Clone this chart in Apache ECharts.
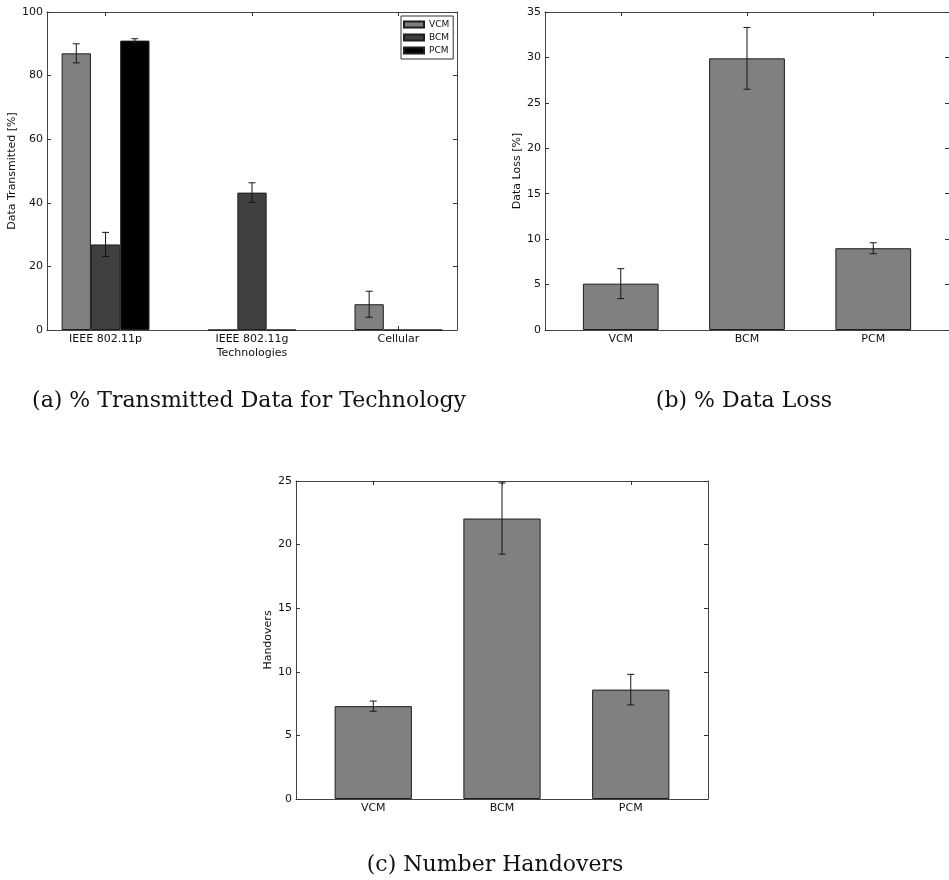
<!DOCTYPE html>
<html>
<head>
<meta charset="utf-8">
<script src="https://cdn.jsdelivr.net/npm/echarts@6/dist/echarts.min.js"></script>
<style>
  html, body { margin: 0; padding: 0; background: #fff; }
  #main { width: 949px; height: 880px; }
</style>
</head>
<body>
<div id="main"></div>
<script>
// ---- data ----
const technologies = ['IEEE 802.11p', 'IEEE 802.11g', 'Cellular'];
const methods = ['VCM', 'BCM', 'PCM'];

// share of data transmitted over each technology [%]
const vcmTransmitted = [87.0, 0, 8.1];
const bcmTransmitted = [26.9, 43.2, 0];
const pcmTransmitted = [91.0, 0, 0];
const vcmTransmittedErr = [3.0, 0, 4.1];
const bcmTransmittedErr = [3.8, 3.1, 0];
const pcmTransmittedErr = [0.6, 0, 0];

// data loss per method [%]
const dataLoss = [5.1, 29.9, 9.0];
const dataLossErr = [1.65, 3.4, 0.6];

// number of handovers per method
const handovers = [7.3, 22.05, 8.6];
const handoversErr = [0.4, 2.8, 1.2];

// y tick labels
const transmittedTicks = [0, 20, 40, 60, 80, 100];
const lossTicks = [0, 5, 10, 15, 20, 25, 30, 35];
const handoverTicks = [0, 5, 10, 15, 20, 25];

// ---- styling ----
const SANS = 'DejaVu Sans';
const SERIF = 'DejaVu Serif';
const INK = '#111';
const FRAME = '#444';
const LABEL_SIZE = 11;
const GREYS = { VCM: '#808080', BCM: '#404040', PCM: '#000000' };

const chart = echarts.init(document.getElementById('main'), null, { renderer: 'canvas' });

const frameLine = { show: true, onZero: false, lineStyle: { color: FRAME, width: 1 } };
const innerTick = { show: true, inside: true, length: 4, lineStyle: { color: '#333', width: 1 } };

function xAxesFor(gridIndex, cats, min, max, name) {
  const pos = cats.map((_, i) => i);
  return [
    {
      type: 'value', gridIndex, position: 'bottom', min, max,
      axisLine: frameLine,
      axisTick: Object.assign({ customValues: pos }, innerTick),
      axisLabel: {
        customValues: pos, margin: 4,
        formatter: v => cats[Math.round(v)],
        fontFamily: SANS, fontSize: LABEL_SIZE, color: INK
      },
      splitLine: { show: false },
      name: name || '', nameLocation: 'middle', nameGap: 18,
      nameTextStyle: { fontFamily: SANS, fontSize: LABEL_SIZE, color: INK }
    },
    {
      type: 'value', gridIndex, position: 'top', min, max,
      axisLine: frameLine,
      axisTick: Object.assign({ customValues: pos }, innerTick),
      axisLabel: { show: false },
      splitLine: { show: false }
    }
  ];
}

function yAxesFor(gridIndex, ticks, name, gap) {
  const min = ticks[0], max = ticks[ticks.length - 1], interval = ticks[1] - ticks[0];
  return [
    {
      type: 'value', gridIndex, position: 'left', min, max, interval,
      axisLine: frameLine, axisTick: innerTick,
      axisLabel: { margin: 4, fontFamily: SANS, fontSize: LABEL_SIZE, color: INK },
      splitLine: { show: false },
      name, nameLocation: 'middle', nameGap: gap, nameRotate: 90,
      nameTextStyle: { fontFamily: SANS, fontSize: LABEL_SIZE, color: INK }
    },
    {
      type: 'value', gridIndex, position: 'right', min, max, interval,
      axisLine: frameLine, axisTick: innerTick,
      axisLabel: { show: false },
      splitLine: { show: false }
    }
  ];
}

// vertical error bar with caps
function errorBarItem(params, api) {
  const x = api.value(0);
  const lo = api.coord([x, api.value(1)]);
  const hi = api.coord([x, api.value(2)]);
  const cap = 3.5;
  const style = { stroke: '#151515', lineWidth: 1 };
  return {
    type: 'group',
    children: [
      { type: 'line', shape: { x1: lo[0], y1: lo[1], x2: hi[0], y2: hi[1] }, style },
      { type: 'line', shape: { x1: lo[0] - cap, y1: lo[1], x2: lo[0] + cap, y2: lo[1] }, style },
      { type: 'line', shape: { x1: hi[0] - cap, y1: hi[1], x2: hi[0] + cap, y2: hi[1] }, style }
    ]
  };
}

function errorRows(values, errs, offset) {
  const rows = [];
  values.forEach((v, i) => {
    if (errs[i] > 0) rows.push([i + offset, v - errs[i], v + errs[i]]);
  });
  return rows;
}

function barSeries(name, values, color, xi, yi, width) {
  return {
    type: 'bar', name, xAxisIndex: xi, yAxisIndex: yi,
    data: values.map((v, i) => [i, v]),
    barWidth: width, barGap: '0%',
    itemStyle: { color, borderColor: '#1e1e1e', borderWidth: 1 },
    emphasis: { disabled: true },
    z: 2
  };
}

function errorSeries(rows, xi, yi) {
  return {
    type: 'custom', xAxisIndex: xi, yAxisIndex: yi,
    renderItem: errorBarItem, data: rows,
    encode: { x: 0, y: [1, 2] }, silent: true, z: 5
  };
}

// grouped bars sit 0.2 units apart around each technology
const groupSeries = [
  [methods[0], vcmTransmitted, vcmTransmittedErr, -0.2],
  [methods[1], bcmTransmitted, bcmTransmittedErr, 0],
  [methods[2], pcmTransmitted, pcmTransmittedErr, 0.2]
];

const series = [];
groupSeries.forEach(([name, vals]) => series.push(barSeries(name, vals, GREYS[name], 0, 0, '20%')));
groupSeries.forEach(([, vals, errs, off]) => series.push(errorSeries(errorRows(vals, errs, off), 0, 0)));
series.push(barSeries('Data Loss', dataLoss, GREYS.VCM, 2, 2, '60%'));
series.push(errorSeries(errorRows(dataLoss, dataLossErr, 0), 2, 2));
series.push(barSeries('Handovers', handovers, GREYS.VCM, 4, 4, '60%'));
series.push(errorSeries(errorRows(handovers, handoversErr, 0), 4, 4));

const captionFont = '22px "' + SERIF + '"';
function caption(text, x, y) {
  return {
    type: 'text', x, y, silent: true,
    style: { text, font: captionFont, fill: INK, align: 'center', verticalAlign: 'middle' }
  };
}

chart.setOption({
  animation: false,
  backgroundColor: '#fff',
  grid: [
    { left: 47, top: 12, width: 410, height: 318 },
    { left: 545, top: 12, width: 412, height: 318 },
    { left: 296, top: 481, width: 412, height: 318 }
  ],
  xAxis: [
    ...xAxesFor(0, technologies, -0.4, 2.4, 'Technologies'),
    ...xAxesFor(1, methods, -0.6, 2.6),
    ...xAxesFor(2, methods, -0.6, 2.6)
  ],
  yAxis: [
    ...yAxesFor(0, transmittedTicks, 'Data Transmitted [%]', 24.5),
    ...yAxesFor(1, lossTicks, 'Data Loss [%]', 19.5),
    ...yAxesFor(2, handoverTicks, 'Handovers', 16)
  ],
  legend: {
    data: methods, orient: 'vertical', left: 401, top: 16,
    icon: 'rect', itemWidth: 20, itemHeight: 6, itemGap: 4,
    padding: [4, 4, 4, 2],
    borderColor: '#333', borderWidth: 1, backgroundColor: '#fff',
    textStyle: { fontFamily: SANS, fontSize: 9, color: INK },
    selectedMode: false
  },
  graphic: [
    caption('(a) % Transmitted Data for Technology', 249, 401),
    caption('(b) % Data Loss', 744, 401),
    caption('(c) Number Handovers', 495, 865)
  ],
  series
});
</script>
</body>
</html>
